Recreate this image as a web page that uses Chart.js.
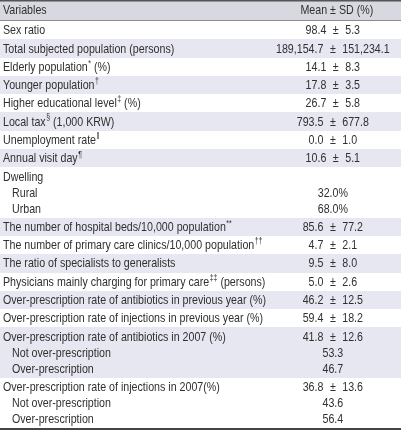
<!DOCTYPE html>
<html><head><meta charset="utf-8">
<script src="https://cdn.jsdelivr.net/npm/chart.js@4/dist/chart.umd.min.js"></script>
<style>html,body{margin:0;padding:0;background:#fff;}canvas{display:block;}</style>
</head><body>
<canvas id="c" width="401" height="431"></canvas>
<script>
// ---- data ----
const headers = ['Variables', 'Mean \u00b1 SD (%)'];
const rowLabels = ['Sex ratio','Total subjected population (persons)','Elderly population','Younger population','Higher educational level','Local tax','Unemployment rate','Annual visit day','Dwelling','Rural','Urban','The number of hospital beds/10,000 population','The number of primary care clinics/10,000 population','The ratio of specialists to generalists','Physicians mainly charging for primary care','Over-prescription rate of antibiotics in previous year (%)','Over-prescription rate of injections in previous year (%)','Over-prescription rate of antibiotics in 2007 (%)','Not over-prescription','Over-prescription','Over-prescription rate of injections in 2007(%)','Not over-prescription','Over-prescription'];
const rowMarks = ['','','*','\u2020','\u2021','\u00a7','\u2016','\u00b6','','','','**','\u2020\u2020','','\u2021\u2021','','','','','','','',''];
const rowSuffix = ['','',' (%)','',' (%)',' (1,000 KRW)','','','','','','','','',' (persons)','','','','','','','',''];
const isSubRow = [0,0,0,0,0,0,0,0,0,1,1,0,0,0,0,0,0,0,1,1,0,1,1];
const means = [98.4,189154.7,14.1,17.8,26.7,793.5,0.0,10.6,null,32.0,68.0,85.6,4.7,9.5,5.0,46.2,59.4,41.8,53.3,46.7,36.8,43.6,56.4];
const sds = [5.3,151234.1,8.3,3.5,5.8,677.8,1.0,5.1,null,null,null,77.2,2.1,8.0,2.6,12.5,18.2,12.6,null,null,13.6,null,null];
const valueUnit = ['','','','','','','','','','%','%','','','','','','','','','','','',''];

// ---- row layout (in row units) ----
const SUB_STEP = 0.875;
const rowCenter = [], groups = [];
let pos = 0;
for (let i = 0; i < rowLabels.length; i++) {
  if (!isSubRow[i]) { groups.push({top: pos, bottom: pos + 1}); rowCenter.push(pos + 0.5); pos += 1; }
  else { const c = rowCenter[i - 1] + SUB_STEP; rowCenter.push(c); pos = c + 0.5; groups[groups.length - 1].bottom = pos; }
}
const totalUnits = pos;

// ---- fonts ----
function hasFont(name) {
  const c = document.createElement('canvas').getContext('2d');
  const t = 'abcdefghijklmnopqrstuvwxyz0123456789ABCDEFG';
  c.font = '40px monospace'; const w1 = c.measureText(t).width;
  c.font = '40px "' + name + '", monospace'; const w2 = c.measureText(t).width;
  return Math.abs(w1 - w2) > 0.5;
}
const NARROW = hasFont('Liberation Sans Narrow');
const FAMILY = NARROW ? '"Liberation Sans Narrow"' : '"Liberation Sans"';
const SX = NARROW ? 1 : 0.82;
const FS = 13, SUP_FS = 8.5;
const TEXT = '#303030';

function tw(ctx, s, size) { ctx.font = size + 'px ' + FAMILY; return ctx.measureText(s).width * SX; }
function txt(ctx, s, x, y, size) {
  ctx.save(); ctx.font = size + 'px ' + FAMILY; ctx.translate(x, y); ctx.scale(SX, 1);
  ctx.textAlign = 'left'; ctx.textBaseline = 'middle'; ctx.fillText(s, 0, 0); ctx.restore();
}
function fmt(v) { return v.toLocaleString('en-US', {minimumFractionDigits: 1, maximumFractionDigits: 1}); }

const tablePlugin = {
  id: 'tablePlugin',
  beforeDraw(chart) {
    const {ctx, chartArea: a, scales: {y}} = chart;
    const w = a.right - a.left;
    ctx.save();
    ctx.fillStyle = '#fff'; ctx.fillRect(0, 0, chart.width, chart.height);
    // header band
    ctx.fillStyle = '#d8d8e0'; ctx.fillRect(a.left, 1, w, a.top - 2);
    // alternating group shading
    ctx.fillStyle = '#e7e7f1';
    groups.forEach((g, k) => {
      if (k % 2 === 1) {
        const t = Math.round(y.getPixelForValue(g.top)), b = Math.round(y.getPixelForValue(g.bottom));
        ctx.fillRect(a.left, t, w, b - t);
      }
    });
    // rules
    ctx.fillStyle = '#555'; ctx.fillRect(a.left, 0, w, 1.5);
    ctx.fillStyle = '#8c8c94'; ctx.fillRect(a.left, a.top - 1, w, 1);
    ctx.fillStyle = '#444'; ctx.fillRect(a.left, a.bottom, w, 2);
    ctx.restore();
  },
  afterDatasetsDraw(chart) {
    const {ctx, chartArea: a, scales: {x}} = chart;
    const pts = chart.getDatasetMeta(0).data;
    const valX = x.getPixelForValue(0.83);
    const headX = x.getPixelForValue(0.84);
    ctx.save();
    ctx.fillStyle = TEXT;
    // header
    const hy = a.top / 2;
    txt(ctx, headers[0], a.left + 3, hy, FS);
    txt(ctx, headers[1], headX - tw(ctx, headers[1], FS) / 2, hy, FS);
    rowLabels.forEach((lab, i) => {
      const cy = pts[i].y + 0.5;
      let lx = a.left + (isSubRow[i] ? 12 : 3);
      txt(ctx, lab, lx, cy, FS); lx += tw(ctx, lab, FS);
      if (rowMarks[i]) { txt(ctx, rowMarks[i], lx + 0.5, cy - 4, SUP_FS); lx += tw(ctx, rowMarks[i], SUP_FS) + 0.5; }
      if (rowSuffix[i]) txt(ctx, rowSuffix[i], lx, cy, FS);
      if (means[i] !== null) {
        if (sds[i] !== null) {
          const L = fmt(means[i]), R = fmt(sds[i]), PM = '\u00b1', gap = 6.5;
          const wl = tw(ctx, L, FS), wr = tw(ctx, R, FS), wp = tw(ctx, PM, FS);
          let sx = valX - (wl + wp + wr + 2 * gap) / 2;
          txt(ctx, L, sx, cy, FS); sx += wl + gap;
          txt(ctx, PM, sx, cy, FS); sx += wp + gap;
          txt(ctx, R, sx, cy, FS);
        } else {
          const s = fmt(means[i]) + valueUnit[i];
          txt(ctx, s, valX - tw(ctx, s, FS) / 2, cy, FS);
        }
      }
    });
    ctx.restore();
  }
};

new Chart(document.getElementById('c'), {
  type: 'scatter',
  data: { datasets: [{ label: 'rows', data: rowCenter.map(v => ({x: 0.5, y: v})), pointRadius: 0, pointHoverRadius: 0 }] },
  options: {
    responsive: false, animation: false, devicePixelRatio: 1, events: [],
    layout: { padding: { top: 21, bottom: 3, left: 0, right: 0 } },
    plugins: { legend: { display: false }, tooltip: { enabled: false } },
    scales: {
      x: { type: 'linear', min: 0, max: 1, display: false },
      y: { type: 'linear', min: 0, max: totalUnits, reverse: true, display: false }
    }
  },
  plugins: [tablePlugin]
});
</script>
</body></html>
